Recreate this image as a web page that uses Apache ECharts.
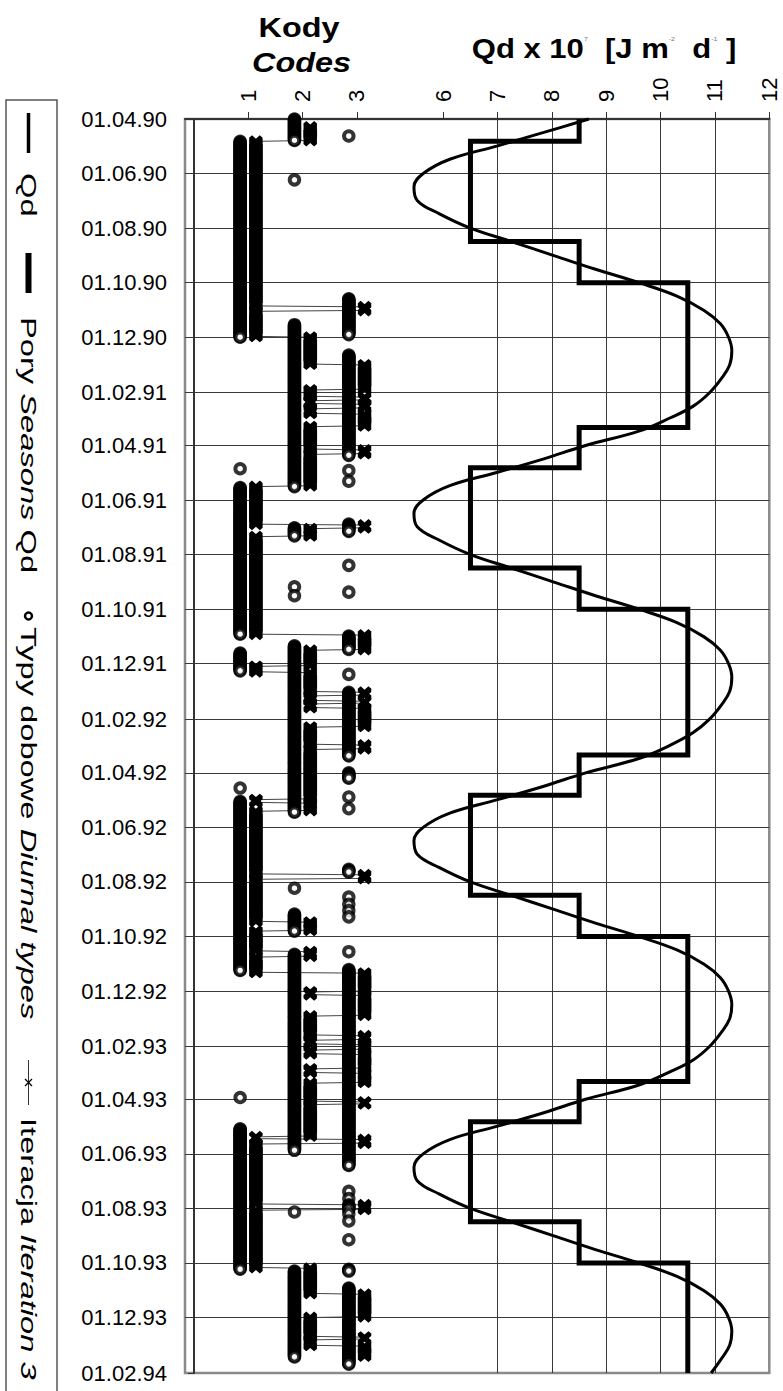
<!DOCTYPE html>
<html>
<head>
<meta charset="utf-8">
<script src="https://cdn.jsdelivr.net/npm/echarts@6/dist/echarts.min.js"></script>
<style>html,body{margin:0;padding:0;background:#fff}#c{width:783px;height:1391px}</style>
</head>
<body>
<div id="c"></div>
<script>
// ---------------- DATA ----------------
const timeTickLabels = ['01.04.90','01.06.90','01.08.90','01.10.90','01.12.90','01.02.91','01.04.91','01.06.91','01.08.91','01.10.91','01.12.91','01.02.92','01.04.92','01.06.92','01.08.92','01.10.92','01.12.92','01.02.93','01.04.93','01.06.93','01.08.93','01.10.93','01.12.93','01.02.94'];
const qdTicks = [6, 7, 8, 9, 10, 11, 12];
const codeTicks = [1, 2, 3];

// Qd curve (x 10^7 J m-2 d-1), read semi-monthly
const qdDates = [
 '1990-04-01','1990-04-16','1990-05-01','1990-05-16','1990-06-01','1990-06-16','1990-07-01','1990-07-16','1990-08-01','1990-08-16','1990-09-01','1990-09-16','1990-10-01','1990-10-16','1990-11-01','1990-11-16','1990-12-01','1990-12-16',
 '1991-01-01','1991-01-16','1991-02-01','1991-02-16','1991-03-01','1991-03-16','1991-04-01','1991-04-16','1991-05-01','1991-05-16','1991-06-01','1991-06-16','1991-07-01','1991-07-16','1991-08-01','1991-08-16','1991-09-01','1991-09-16','1991-10-01','1991-10-16','1991-11-01','1991-11-16','1991-12-01','1991-12-16',
 '1992-01-01','1992-01-16','1992-02-01','1992-02-16','1992-03-01','1992-03-16','1992-04-01','1992-04-16','1992-05-01','1992-05-16','1992-06-01','1992-06-16','1992-07-01','1992-07-16','1992-08-01','1992-08-16','1992-09-01','1992-09-16','1992-10-01','1992-10-16','1992-11-01','1992-11-16','1992-12-01','1992-12-16',
 '1993-01-01','1993-01-16','1993-02-01','1993-02-16','1993-03-01','1993-03-16','1993-04-01','1993-04-16','1993-05-01','1993-05-16','1993-06-01','1993-06-16','1993-07-01','1993-07-16','1993-08-01','1993-08-16','1993-09-01','1993-09-16','1993-10-01','1993-10-16','1993-11-01','1993-11-16','1993-12-01','1993-12-16',
 '1994-01-01','1994-01-16','1994-02-01'
];
const qdValues = [
 8.68,7.85,7.00,6.12,5.63,5.46,5.52,5.93,6.50,7.25,8.05,8.80,9.60,10.30,10.80,11.10,11.25,11.31,
 11.27,11.12,10.90,10.60,10.18,9.60,8.62,7.85,7.00,6.12,5.63,5.46,5.52,5.93,6.50,7.25,8.05,8.80,9.60,10.30,10.80,11.10,11.25,11.31,
 11.27,11.12,10.90,10.60,10.18,9.60,8.62,7.85,7.00,6.12,5.63,5.46,5.52,5.93,6.50,7.25,8.05,8.80,9.60,10.30,10.80,11.10,11.25,11.31,
 11.27,11.12,10.90,10.60,10.18,9.60,8.62,7.85,7.00,6.12,5.63,5.46,5.52,5.93,6.50,7.25,8.05,8.80,9.60,10.30,10.80,11.10,11.25,11.31,
 11.27,11.12,10.93
];

// Seasons (Pory) Qd: start date of each season and its level
const seasonStarts = ['1990-04-01','1990-04-26','1990-08-16','1990-10-01','1991-03-12','1991-04-26','1991-08-16','1991-10-01','1992-03-12','1992-04-26','1992-08-16','1992-10-01','1993-03-12','1993-04-26','1993-08-16','1993-10-01'];
const seasonValues = [8.5, 6.5, 8.5, 10.5, 8.5, 6.5, 8.5, 10.5, 8.5, 6.5, 8.5, 10.5, 8.5, 6.5, 8.5, 10.5];
const seasonEnd = '1994-02-01';

// Diurnal types (Typy dobowe): [from, to, code] – days with that code
const diurnalRuns = [
 ['1990-04-01','1990-04-25',2],['1990-04-20','1990-04-20',3],['1990-06-08','1990-06-08',2],
 ['1990-04-26','1990-12-01',1],['1990-10-19','1990-11-28',3],
 ['1990-11-17','1991-05-17',2],['1990-12-21','1991-04-12',3],
 ['1991-04-27','1991-04-27',1],['1991-04-29','1991-04-29',3],['1991-05-11','1991-05-11',3],
 ['1991-05-18','1991-10-29',1],['1991-06-28','1991-07-06',3],['1991-07-02','1991-07-11',2],
 ['1991-08-13','1991-08-13',3],['1991-09-06','1991-09-06',2],['1991-09-12','1991-09-12',3],['1991-09-16','1991-09-16',2],
 ['1991-10-31','1991-11-15',3],['1991-11-19','1991-12-09',1],['1991-11-11','1992-05-15',2],
 ['1991-12-13','1991-12-13',3],['1992-01-02','1992-03-13',3],['1992-04-01','1992-04-07',3],
 ['1992-04-18','1992-04-18',1],['1992-04-28','1992-04-28',3],['1992-05-11','1992-05-11',3],
 ['1992-05-03','1992-11-08',1],['1992-07-18','1992-07-21',3],['1992-08-08','1992-08-08',2],
 ['1992-08-18','1992-08-18',3],['1992-08-26','1992-08-26',3],['1992-09-02','1992-09-02',3],['1992-09-09','1992-09-09',3],
 ['1992-09-06','1992-09-25',2],['1992-10-18','1992-10-18',3],
 ['1992-10-21','1993-05-28',2],['1992-11-07','1993-06-14',3],
 ['1993-03-30','1993-03-30',1],['1993-05-04','1993-10-08',1],
 ['1993-07-13','1993-07-13',3],['1993-07-21','1993-07-21',3],['1993-07-28','1993-08-02',3],['1993-08-07','1993-08-07',3],['1993-08-15','1993-08-15',3],['1993-09-05','1993-09-05',3],
 ['1993-08-05','1993-08-05',2],
 ['1993-10-08','1993-10-10',3],['1993-10-10','1994-01-14',2],['1993-10-29','1994-01-22',3]
];

// Iteration 3 (Iteracja): consecutive runs [from, to, code]
const iterationRuns = [
 ['1990-04-10','1990-04-25',2],['1990-04-26','1990-10-27',1],['1990-10-28','1990-11-01',3],['1990-11-02','1990-11-30',1],
 ['1990-12-01','1990-12-31',2],['1991-01-01','1991-01-28',3],['1991-01-29','1991-02-05',2],['1991-02-06','1991-02-09',3],
 ['1991-02-10','1991-02-13',2],['1991-02-14','1991-02-18',3],['1991-02-19','1991-02-24',2],['1991-02-25','1991-03-10',3],
 ['1991-03-11','1991-04-05',2],['1991-04-06','1991-04-10',3],['1991-04-11','1991-05-16',2],['1991-05-17','1991-06-28',1],
 ['1991-06-29','1991-07-02',3],['1991-07-03','1991-07-11',2],['1991-07-12','1991-10-29',1],['1991-10-30','1991-11-15',3],
 ['1991-11-16','1991-12-03',2],['1991-12-04','1991-12-10',1],['1991-12-11','1992-01-01',2],['1992-01-02','1992-01-05',3],
 ['1992-01-06','1992-01-11',2],['1992-01-12','1992-01-14',3],['1992-01-15','1992-01-19',2],['1992-01-20','1992-02-09',3],
 ['1992-02-10','1992-02-29',2],['1992-03-01','1992-03-05',3],['1992-03-06','1992-04-30',2],['1992-05-01','1992-05-04',1],
 ['1992-05-05','1992-05-13',2],['1992-05-14','1992-07-23',1],['1992-07-24','1992-07-28',3],['1992-07-29','1992-09-14',1],
 ['1992-09-15','1992-09-24',2],['1992-09-25','1992-10-17',1],['1992-10-18','1992-10-23',2],['1992-10-24','1992-11-10',1],
 ['1992-11-11','1992-12-01',3],['1992-12-02','1992-12-05',2],['1992-12-06','1992-12-28',3],['1992-12-29','1993-01-19',2],
 ['1993-01-20','1993-01-24',3],['1993-01-25','1993-01-29',2],['1993-01-30','1993-02-04',3],['1993-02-05','1993-02-09',2],
 ['1993-02-10','1993-02-25',3],['1993-02-26','1993-03-02',2],['1993-03-03','1993-03-13',3],['1993-03-14','1993-04-03',2],
 ['1993-04-04','1993-04-06',3],['1993-04-07','1993-05-12',2],['1993-05-13','1993-05-15',1],['1993-05-16','1993-05-20',3],
 ['1993-05-21','1993-07-27',1],['1993-07-28','1993-08-02',3],['1993-08-03','1993-10-06',1],['1993-10-07','1993-11-04',2],
 ['1993-11-05','1993-11-30',3],['1993-12-01','1993-12-22',2],['1993-12-23','1993-12-25',3],['1993-12-26','1994-01-01',2],
 ['1994-01-02','1994-01-13',3]
];

// ---------------- LAYOUT / STYLE ----------------
const FONT = '"Liberation Sans", Arial, Helvetica, sans-serif';
const QD_AXIS_MIN = 1.246, QD_AXIS_MAX = 12;
const CODE_AXIS_MIN = -0.165, CODE_AXIS_MAX = 10.59;
const DIURNAL_SHIFT = -0.15, ITER_SHIFT = 0.14;
const DAY = 86400000;
const X_PATH = 'path://M0,2.2L2.2,0L5,2.8L7.8,0L10,2.2L7.2,5L10,7.8L7.8,10L5,7.2L2.2,10L0,7.8L2.8,5Z';

function isoT(s) { const p = s.split('-').map(Number); return Date.UTC(p[0], p[1] - 1, p[2]); }
function labT(s) { const p = s.split('.').map(Number); return Date.UTC(1900 + p[2], p[1] - 1, p[0]); }

const tickTs = timeTickLabels.map(labT);
const labelByT = {};
timeTickLabels.forEach((l, i) => { labelByT[tickTs[i]] = l; });
const T0 = tickTs[0], T1 = tickTs[tickTs.length - 1];

const qdData = qdDates.map((d, i) => [qdValues[i], isoT(d)]);

const seasonData = [];
seasonStarts.forEach((d, i) => {
  const end = i + 1 < seasonStarts.length ? seasonStarts[i + 1] : seasonEnd;
  seasonData.push([seasonValues[i], isoT(d)]);
  seasonData.push([seasonValues[i], isoT(end)]);
});

function expand(runs, shift) {
  const out = [];
  runs.forEach(r => {
    for (let t = isoT(r[0]); t <= isoT(r[1]); t += DAY) out.push([r[2] + shift, t]);
  });
  return out;
}
const diurnalData = expand(diurnalRuns, DIURNAL_SHIFT);
const iterData = expand(iterationRuns, ITER_SHIFT);

const axisLabelBase = { fontSize: 22, color: '#000', fontFamily: FONT };

// legend (vertical, rotated text)
const LEG_X = 28.5;
function vText(y, text) {
  return {
    type: 'text', x: LEG_X, y: y, rotation: -Math.PI / 2, scaleX: 1.52, z: 100,
    style: {
      text: text, fontSize: 21.5, fontFamily: FONT, fill: '#000',
      align: 'left', verticalAlign: 'middle', textAlign: 'left', textVerticalAlign: 'middle',
      rich: {
        n: { fontSize: 21.5, fontFamily: FONT, fill: '#000' },
        i: { fontSize: 21.5, fontFamily: FONT, fontStyle: 'italic', fill: '#000' }
      }
    }
  };
}

const chart = echarts.init(document.getElementById('c'), null, { renderer: 'svg', width: 783, height: 1391 });
chart.setOption({
  animation: false,
  backgroundColor: '#fff',
  grid: { left: 185, top: 119, right: 13.7, bottom: 18, show: true, borderColor: '#8a8a8a', borderWidth: 2.5, containLabel: false },
  xAxis: [
    {
      type: 'value', position: 'top', min: QD_AXIS_MIN, max: QD_AXIS_MAX,
      axisLine: { show: true, lineStyle: { color: '#333', width: 2 } },
      axisTick: { show: true, length: 7, customValues: qdTicks, lineStyle: { color: '#333', width: 1 } },
      axisLabel: Object.assign({ customValues: qdTicks, rotate: -90, margin: 17 }, axisLabelBase),
      splitLine: { show: true, showMinLine: false, showMaxLine: false, lineStyle: { color: '#3a3a3a', width: 1 } }
    },
    {
      type: 'value', position: 'top', min: CODE_AXIS_MIN, max: CODE_AXIS_MAX,
      axisLine: { show: false },
      axisTick: { show: true, length: 7, customValues: codeTicks, lineStyle: { color: '#333', width: 1 } },
      axisLabel: Object.assign({ customValues: codeTicks, rotate: -90, margin: 17 }, axisLabelBase),
      splitLine: { show: false }
    }
  ],
  yAxis: {
    type: 'value', inverse: true, min: T0, max: T1,
    axisLine: { show: true, lineStyle: { color: '#333', width: 2 } },
    axisTick: { show: true, length: 6, customValues: tickTs, lineStyle: { color: '#333', width: 1 } },
    axisLabel: Object.assign({ customValues: tickTs, margin: 18, formatter: v => labelByT[v] || '' }, axisLabelBase),
    splitLine: { show: true, showMinLine: false, showMaxLine: false, lineStyle: { color: '#3a3a3a', width: 1 } }
  },
  series: [
    {
      type: 'line', name: 'Iteracja Iteration 3', xAxisIndex: 1, data: iterData,
      symbol: X_PATH, symbolSize: [14, 12], showSymbol: true, showAllSymbol: true,
      itemStyle: { color: '#000' }, lineStyle: { color: '#444', width: 1 }, z: 3, silent: true
    },
    {
      type: 'scatter', name: 'Typy dobowe Diurnal types', xAxisIndex: 1, data: diurnalData, large: false,
      symbol: 'circle', symbolSize: 9.5,
      itemStyle: { color: '#fff', borderColor: '#000', borderWidth: 4 }, z: 4, silent: true
    },
    {
      type: 'line', name: 'Pory Seasons Qd', xAxisIndex: 0, data: seasonData, symbol: 'none',
      lineStyle: { color: '#000', width: 5, join: 'miter' }, z: 5, silent: true
    },
    {
      type: 'line', name: 'Qd', xAxisIndex: 0, data: qdData, symbol: 'none', smooth: 0.4,
      lineStyle: { color: '#000', width: 3 }, z: 6, silent: true
    }
  ],
  graphic: [
    { type: 'rect', shape: { x: 6, y: 100, width: 51, height: 1310 }, style: { fill: 'none', stroke: '#555', lineWidth: 1.5 }, z: 90 },
    { type: 'line', shape: { x1: LEG_X, y1: 113, x2: LEG_X, y2: 153 }, style: { stroke: '#000', lineWidth: 3.5 }, z: 100 },
    vText(173, 'Qd'),
    { type: 'line', shape: { x1: LEG_X, y1: 253, x2: LEG_X, y2: 293 }, style: { stroke: '#000', lineWidth: 6 }, z: 100 },
    vText(317, '{n|Pory }{i|Seasons}{n| Qd}'),
    { type: 'circle', shape: { cx: LEG_X, cy: 616, r: 3.5 }, style: { fill: '#fff', stroke: '#000', lineWidth: 2.5 }, z: 100 },
    vText(627, '{n|Typy dobowe }{i|Diurnal types}'),
    { type: 'line', shape: { x1: LEG_X, y1: 1060, x2: LEG_X, y2: 1105 }, style: { stroke: '#333', lineWidth: 1 }, z: 100 },
    { type: 'line', shape: { x1: LEG_X - 3.5, y1: 1079, x2: LEG_X + 3.5, y2: 1086 }, style: { stroke: '#000', lineWidth: 1.2 }, z: 100 },
    { type: 'line', shape: { x1: LEG_X - 3.5, y1: 1086, x2: LEG_X + 3.5, y2: 1079 }, style: { stroke: '#000', lineWidth: 1.2 }, z: 100 },
    vText(1118, '{n|Iteracja }{i|Iteration 3}'),
    {
      type: 'text', x: 299, y: 27, scaleX: 1.2, z: 100,
      style: { text: 'Kody', fontSize: 27, fontWeight: 'bold', fontFamily: FONT, fill: '#000', align: 'center', verticalAlign: 'middle', textAlign: 'center', textVerticalAlign: 'middle' }
    },
    {
      type: 'text', x: 301.5, y: 62, scaleX: 1.2, z: 100,
      style: { text: 'Codes', fontSize: 27, fontWeight: 'bold', fontStyle: 'italic', fontFamily: FONT, fill: '#000', align: 'center', verticalAlign: 'middle', textAlign: 'center', textVerticalAlign: 'middle' }
    },
    {
      type: 'text', x: 604, y: 49, scaleX: 1.15, z: 100,
      style: {
        text: '{b|Qd x 10}{s|7}{b|  [J m}{s|-2}{b|  d}{s|-1}{b| ]}',
        fontSize: 27, fontWeight: 'bold', fontFamily: FONT, fill: '#000',
        align: 'center', verticalAlign: 'middle', textAlign: 'center', textVerticalAlign: 'middle',
        rich: {
          b: { fontSize: 27, fontWeight: 'bold', fontFamily: FONT, fill: '#000' },
          s: { fontSize: 6, fontFamily: FONT, fill: '#777', verticalAlign: 'top' }
        }
      }
    }
  ]
});
</script>
</body>
</html>
